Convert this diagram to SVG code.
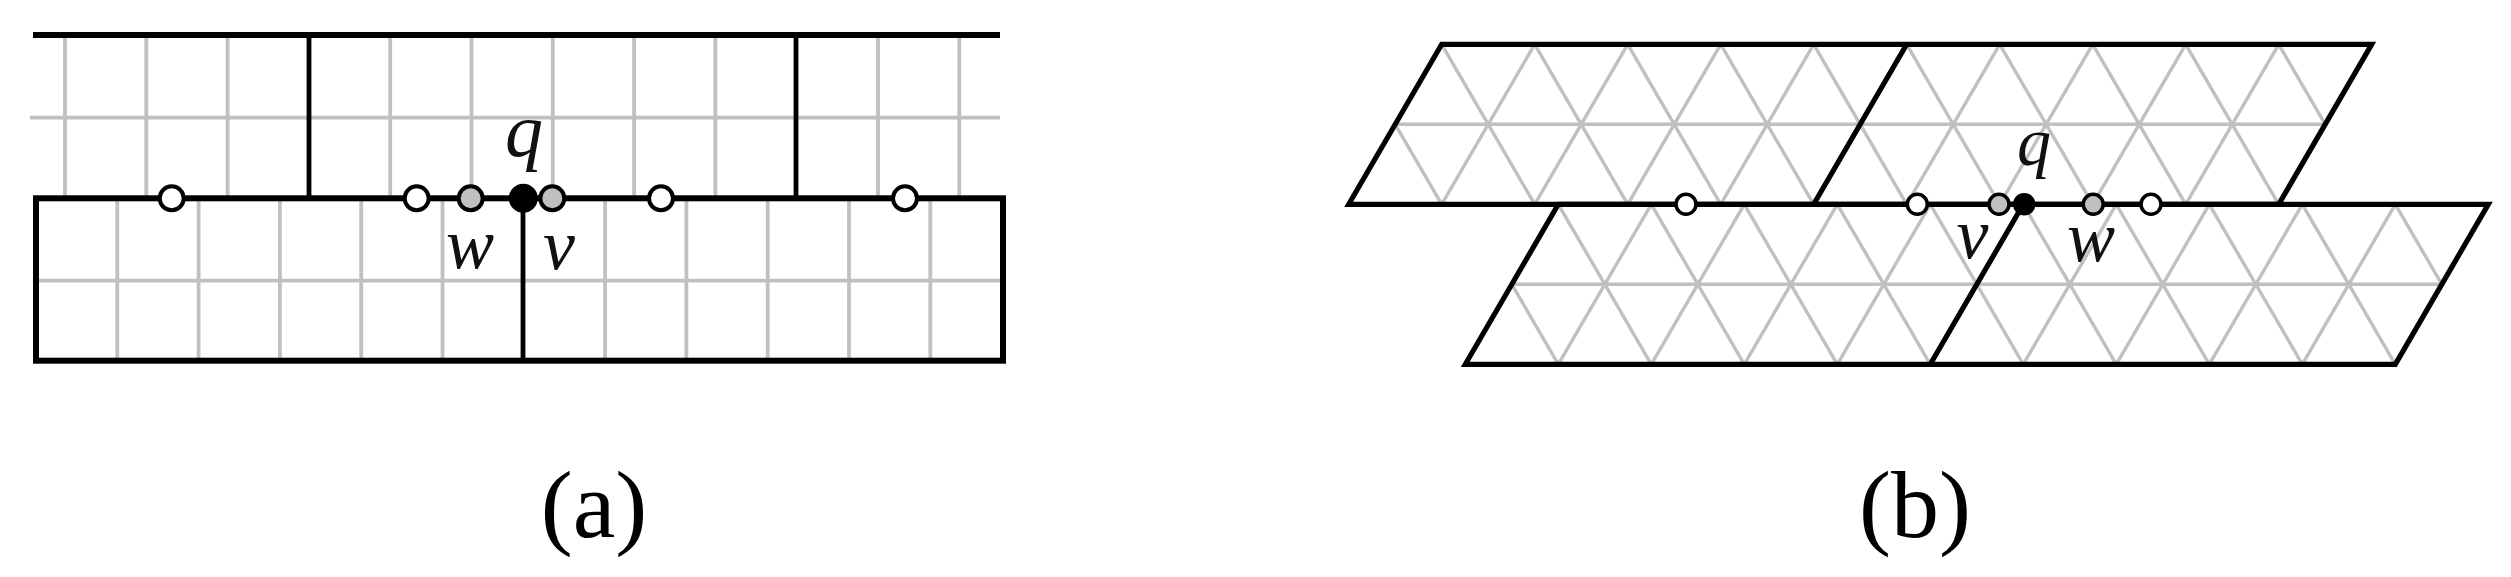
<svg xmlns="http://www.w3.org/2000/svg" width="2511" height="577" viewBox="0 0 2511 577">
<style>
.g{stroke:#c0c0c0;stroke-width:3.8;fill:none}
.gb{stroke:#c0c0c0;stroke-width:3.4;fill:none}
.k{stroke:#000;stroke-width:6;fill:none;stroke-linejoin:miter}
.kt{stroke:#000;stroke-width:4.8;fill:none}
.kb{stroke:#000;stroke-width:5.2;fill:none;stroke-linejoin:miter}
.cw{fill:#fff;stroke:#000;stroke-width:4}
.cg{fill:#c0c0c0;stroke:#000;stroke-width:4}
.ck{fill:#000;stroke:#000;stroke-width:4}
.cwb{fill:#fff;stroke:#000;stroke-width:3.5}
.cgb{fill:#c0c0c0;stroke:#000;stroke-width:3.5}
.ckb{fill:#000;stroke:#000;stroke-width:3.5}
.lbl{font-family:"Liberation Serif",serif;font-style:italic;fill:#111;text-anchor:middle}
.cap{font-family:"Liberation Serif",serif;font-size:96px;fill:#000;text-anchor:middle}
</style>
<g id="panel-a">
  <g id="a-grid">
    <path class="g" d="M65,35V198M146.3,35V198M227.6,35V198M390.2,35V198M471.5,35V198M552.8,35V198M634.1,35V198M715.4,35V198M878,35V198M959.3,35V198M30,117.7H1000"/>
    <path class="g" d="M117.3,198V361M198.6,198V361M279.9,198V361M361.2,198V361M442.5,198V361M605.1,198V361M686.4,198V361M767.7,198V361M849,198V361M930.3,198V361M36,280.7H1003"/>
  </g>
  <g id="a-edges">
    <path class="k" d="M33,35H1000"/>
    <rect class="k" x="36" y="198.3" width="967" height="162.4"/>
    <path class="kt" d="M309,35V198M796,35V198M523,198V361"/>
  </g>
  <g id="a-nodes">
    <circle id="a-n1" class="cw" cx="171.7" cy="198.3" r="12"/>
    <circle id="a-n2" class="cw" cx="416.7" cy="198.3" r="12"/>
    <circle id="a-w" class="cg" cx="470.7" cy="198.3" r="12"/>
    <circle id="a-v" class="cg" cx="552.3" cy="198.3" r="12"/>
    <circle id="a-q" class="ck" cx="523.3" cy="198.3" r="12.5"/>
    <circle id="a-n3" class="cw" cx="661" cy="198.3" r="12"/>
    <circle id="a-n4" class="cw" cx="905" cy="198.3" r="12"/>
  </g>
  <g id="a-labels">
    <text class="lbl" x="524" y="156" font-size="76">q</text>
    <text class="lbl" x="470" y="268" font-size="72">w</text>
    <text class="lbl" x="559" y="268.5" font-size="72">v</text>
    <text class="cap" x="594" y="537">(a)</text>
  </g>
</g>
<g id="panel-b">
  <g id="b-grid">
    <path class="gb" d="M1395.2,124.3L1441.7,204.3M1441.7,44.3L1534.7,204.3M1534.7,44.3L1627.7,204.3M1627.7,44.3L1720.7,204.3M1720.7,44.3L1813.7,204.3M1813.7,44.3L1906.7,204.3M1906.7,44.3L1999.7,204.3M1999.7,44.3L2092.7,204.3M2092.7,44.3L2185.7,204.3M2185.7,44.3L2278.7,204.3M2278.7,44.3L2325.2,124.3"/>
    <path class="gb" d="M1534.7,44.3L1441.7,204.3M1627.7,44.3L1534.7,204.3M1720.7,44.3L1627.7,204.3M1813.7,44.3L1720.7,204.3M1906.7,44.3L1813.7,204.3M1999.7,44.3L1906.7,204.3M2092.7,44.3L1999.7,204.3M2185.7,44.3L2092.7,204.3M2278.7,44.3L2185.7,204.3M1395.2,124.3H2325.2"/>
    <path class="gb" d="M1511.8,284.3L1558.3,364.3M1558.3,204.3L1651.3,364.3M1651.3,204.3L1744.3,364.3M1744.3,204.3L1837.3,364.3M1837.3,204.3L1930.3,364.3M1930.3,204.3L2023.3,364.3M2023.3,204.3L2116.3,364.3M2116.3,204.3L2209.3,364.3M2209.3,204.3L2302.3,364.3M2302.3,204.3L2395.3,364.3M2395.3,204.3L2441.8,284.3"/>
    <path class="gb" d="M1651.3,204.3L1558.3,364.3M1744.3,204.3L1651.3,364.3M1837.3,204.3L1744.3,364.3M1930.3,204.3L1837.3,364.3M2023.3,204.3L1930.3,364.3M2116.3,204.3L2023.3,364.3M2209.3,204.3L2116.3,364.3M2302.3,204.3L2209.3,364.3M2395.3,204.3L2302.3,364.3M1511.8,284.3H2441.8"/>
  </g>
  <g id="b-edges">
    <polygon class="kb" points="1441.7,44.3 2371.7,44.3 2278.7,204.3 1348.7,204.3"/>
    <polygon class="kb" points="1558.3,204.3 2488.3,204.3 2395.3,364.3 1465.3,364.3"/>
    <path class="kb" d="M1906.7,44.3L1813.7,204.3M2023.3,204.3L1930.3,364.3"/>
  </g>
  <g id="b-nodes">
    <circle id="b-n1" class="cwb" cx="1686" cy="204.3" r="10"/>
    <circle id="b-n2" class="cwb" cx="1917.3" cy="204.3" r="10"/>
    <circle id="b-v" class="cgb" cx="1999" cy="204.3" r="10"/>
    <circle id="b-w" class="cgb" cx="2093.2" cy="204.3" r="10"/>
    <circle id="b-q" class="ckb" cx="2024.2" cy="204.3" r="9.5"/>
    <circle id="b-n3" class="cwb" cx="2151" cy="204.3" r="10"/>
  </g>
  <g id="b-labels">
    <text class="lbl" x="2034" y="165" font-size="68">q</text>
    <text class="lbl" x="1972.5" y="257.5" font-size="72">v</text>
    <text class="lbl" x="2091" y="261" font-size="72">w</text>
    <text class="cap" x="1915" y="537">(b)</text>
  </g>
</g>
</svg>
